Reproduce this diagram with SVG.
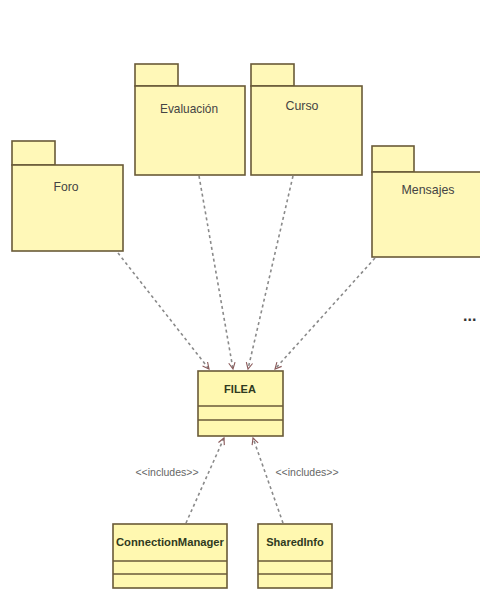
<svg xmlns="http://www.w3.org/2000/svg" width="480" height="591" viewBox="0 0 480 591">
  <style>
    .pkg { fill: #fff8b8; stroke: #6a5a38; stroke-width: 1.6; }
    .cls { fill: #fff8b0; stroke: #6a5a38; stroke-width: 1.6; }
    .pname { font-family: "Liberation Sans Narrow", "Liberation Sans", Arial, sans-serif; font-size: 13px; fill: #444; text-anchor: middle; }
    .cname { font-family: "Liberation Sans Narrow", "Liberation Sans", Arial, sans-serif; font-size: 11px; font-weight: bold; fill: #2f3a20; text-anchor: middle; }
    .dep { fill: none; stroke: #8a8a8a; stroke-width: 1.6; stroke-dasharray: 3 3; }
    .stereo { font-family: "Liberation Sans Narrow", "Liberation Sans", Arial, sans-serif; font-size: 10.5px; fill: #666; text-anchor: middle; }
  </style>
  <defs>
    <marker id="open" viewBox="0 0 10 10" refX="9" refY="5" markerWidth="8" markerHeight="8" markerUnits="userSpaceOnUse" orient="auto">
      <path d="M1,1 L9,5 L1,9" fill="none" stroke="#8a5a5a" stroke-width="1.4"/>
    </marker>
  </defs>
  <rect width="480" height="591" fill="#ffffff"/>

  <!-- packages -->
  <g id="foro">
    <rect class="pkg" x="12" y="141" width="43" height="24"/>
    <rect class="pkg" x="12" y="165" width="111" height="86"/>
    <text class="pname" x="66" y="191" textLength="25" lengthAdjust="spacingAndGlyphs">Foro</text>
  </g>
  <g id="evaluacion">
    <rect class="pkg" x="135" y="64" width="43" height="22"/>
    <rect class="pkg" x="135" y="86" width="110" height="89"/>
    <text class="pname" x="189" y="113" textLength="58" lengthAdjust="spacingAndGlyphs">Evaluación</text>
  </g>
  <g id="curso">
    <rect class="pkg" x="251" y="64" width="43" height="22"/>
    <rect class="pkg" x="251" y="86" width="111" height="89"/>
    <text class="pname" x="302" y="110" textLength="33" lengthAdjust="spacingAndGlyphs">Curso</text>
  </g>
  <g id="mensajes">
    <rect class="pkg" x="372" y="146" width="42" height="26"/>
    <rect class="pkg" x="372" y="172" width="112" height="85"/>
    <text class="pname" x="428" y="194" textLength="53" lengthAdjust="spacingAndGlyphs">Mensajes</text>
  </g>

  <!-- classes -->
  <g id="flea">
    <rect class="cls" x="198" y="371" width="85" height="65"/>
    <line x1="198" y1="406" x2="283" y2="406" stroke="#6a5a38" stroke-width="1.6"/>
    <line x1="198" y1="420" x2="283" y2="420" stroke="#6a5a38" stroke-width="1.6"/>
    <text class="cname" x="240" y="393">FILEA</text>
  </g>
  <g id="connectionmanager">
    <rect class="cls" x="113" y="524" width="114" height="64"/>
    <line x1="113" y1="561" x2="227" y2="561" stroke="#6a5a38" stroke-width="1.6"/>
    <line x1="113" y1="574" x2="227" y2="574" stroke="#6a5a38" stroke-width="1.6"/>
    <text class="cname" x="170" y="546" textLength="108" lengthAdjust="spacingAndGlyphs">ConnectionManager</text>
  </g>
  <g id="sharedinfo">
    <rect class="cls" x="258" y="524" width="74" height="64"/>
    <line x1="258" y1="561" x2="332" y2="561" stroke="#6a5a38" stroke-width="1.6"/>
    <line x1="258" y1="574" x2="332" y2="574" stroke="#6a5a38" stroke-width="1.6"/>
    <text class="cname" x="295" y="546">SharedInfo</text>
  </g>

  <!-- connectors -->
  <g id="connectors">
    <line class="dep" x1="118" y1="253" x2="209" y2="369" marker-end="url(#open)"/>
    <line class="dep" x1="199" y1="176" x2="233" y2="369" marker-end="url(#open)"/>
    <line class="dep" x1="293" y1="176" x2="248" y2="369" marker-end="url(#open)"/>
    <line class="dep" x1="375" y1="258" x2="275" y2="369" marker-end="url(#open)"/>
    <line class="dep" x1="186" y1="523" x2="224" y2="438" marker-end="url(#open)"/>
    <line class="dep" x1="283" y1="523" x2="253" y2="438" marker-end="url(#open)"/>
    <text class="stereo" x="167" y="476">&lt;&lt;includes&gt;&gt;</text>
    <text class="stereo" x="307" y="476">&lt;&lt;includes&gt;&gt;</text>
  </g>

  <text x="463" y="321" font-family="Liberation Sans, Arial, sans-serif" font-size="16" font-weight="bold" fill="#333">...</text>
</svg>
